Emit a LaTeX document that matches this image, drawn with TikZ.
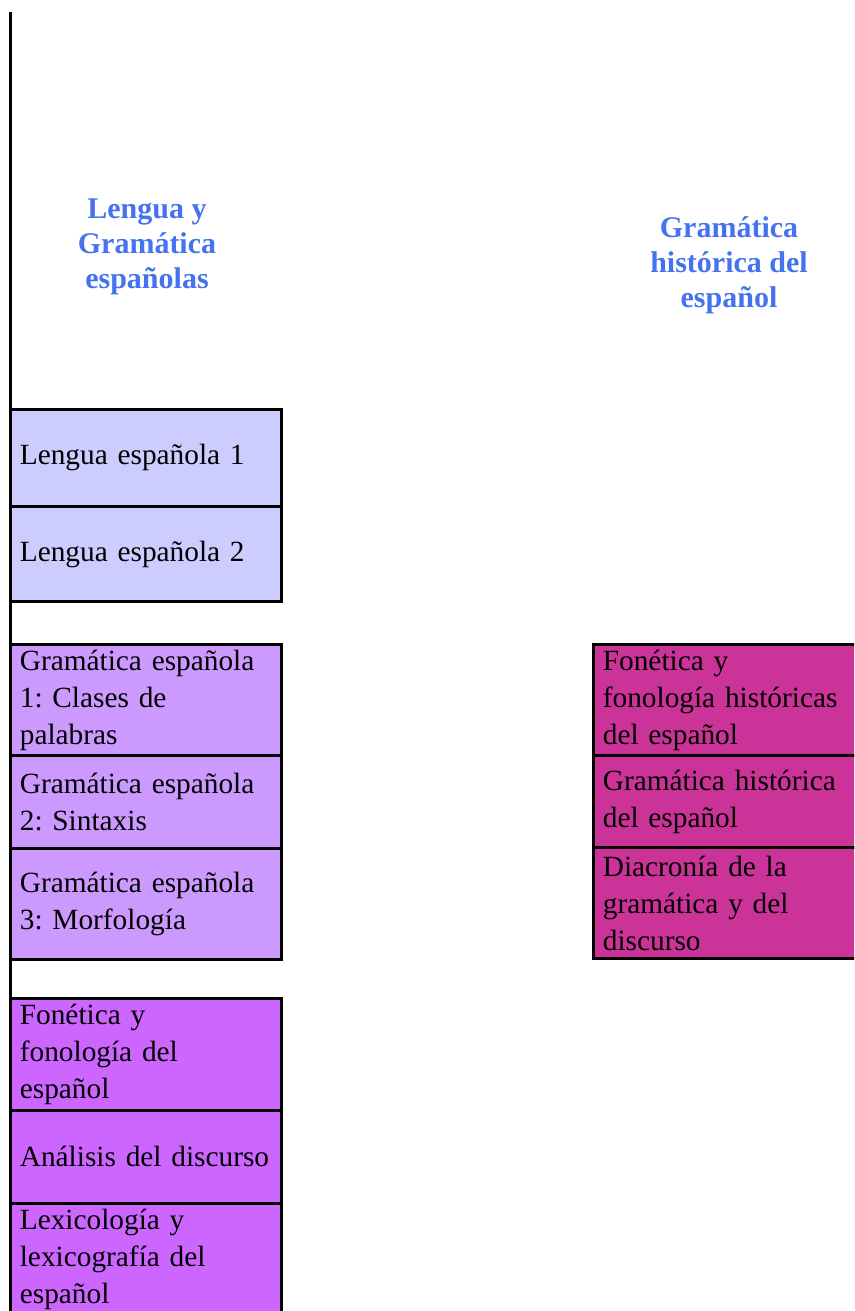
\documentclass[tikz,border=0pt]{standalone}
\usepackage{fontspec}
\setmainfont{Liberation Serif}
\usepackage{tikz}
\usetikzlibrary{positioning}
\definecolor{mtitle}{RGB}{68,114,240}
\definecolor{mlengua}{RGB}{204,204,255}
\definecolor{mgram}{RGB}{204,153,255}
\definecolor{mfon}{RGB}{204,102,255}
\definecolor{mhist}{RGB}{204,51,153}

\begin{document}
\frenchspacing
\begin{tikzpicture}[x=0.75pt, y=-0.75pt,
    course/.style={draw, line width=2.25pt, rectangle, anchor=north west, outer sep=0pt,
      text width=189pt, inner xsep=7pt, inner ysep=0pt, align=left,
      font=\fontsize{22}{27.75}\selectfont},
    below course/.style={course, anchor=north, below=0pt of #1},
    blocktitle/.style={mtitle, align=center, font=\fontsize{22.5}{26.25}\selectfont\bfseries}]
    \useasboundingbox (0, 0) rectangle (854, 1311);
    \clip (0, 0) rectangle (854, 1311);

    \coordinate (top) at (10.5, 12);
    \coordinate (bottom) at (10.5, 1311);

    \node [blocktitle] (titleLeft) at (147, 247) {Lengua y\\Gramática\\españolas};
    \node [blocktitle] (titleRight) at (729, 265) {Gramática\\histórica del\\español};

    % left column
    \node [course, fill=mlengua, minimum height=73pt] (le1) at (10.5, 409) {Lengua española 1};
    \node [below course=le1, fill=mlengua, minimum height=71.5pt] (le2) {Lengua española 2};

    \node [course, fill=mgram, minimum height=83.25pt] (ge1) at (10.5, 644.5) {Gramática española\\1: Clases de\\palabras};
    \node [below course=ge1, fill=mgram, minimum height=69.75pt] (ge2) {Gramática española\\2: Sintaxis};
    \node [below course=ge2, fill=mgram, minimum height=83pt] (ge3) {Gramática española\\3: Morfología};

    \node [course, fill=mfon, minimum height=84pt] (fon) at (10.5, 998) {Fonética y\\fonología del\\español};
    \node [below course=fon, fill=mfon, minimum height=69.75pt] (disc) {Análisis del discurso};
    \node [below course=disc, fill=mfon, minimum height=85pt] (lex) {Lexicología y\\lexicografía del\\español};

    % right column
    \node [course, fill=mhist, minimum height=83.5pt] (fh) at (593.5, 644.5) {Fonética y\\fonología históricas\\del español};
    \node [below course=fh, fill=mhist, minimum height=69pt] (gh) {Gramática histórica\\del español};
    \node [below course=gh, fill=mhist, minimum height=83pt] (dia) {Diacronía de la\\gramática y del\\discurso};

    \draw [line width=2.25pt] (top) -- (bottom);
\end{tikzpicture}
\end{document}
